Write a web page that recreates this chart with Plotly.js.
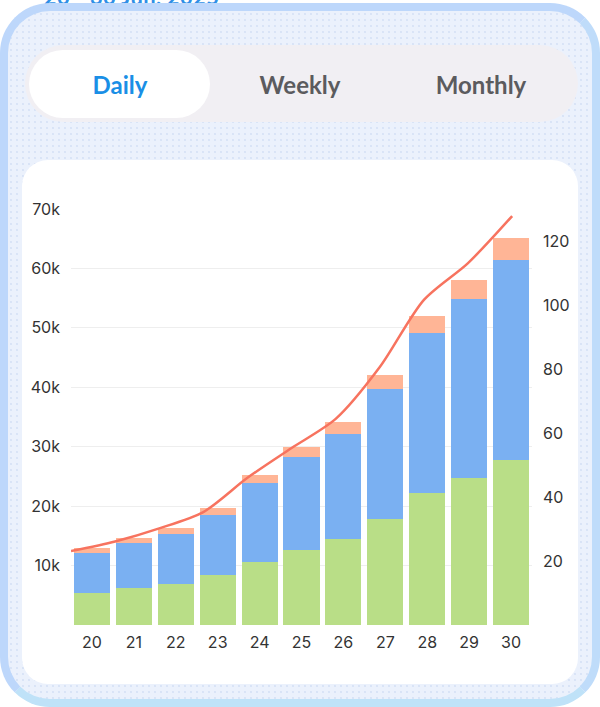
<!DOCTYPE html>
<html>
<head>
<meta charset="utf-8">
<script src="https://cdn.plot.ly/plotly-3.0.1.min.js"></script>
<style>
  html, body { margin:0; padding:0; width:600px; height:707px; overflow:hidden; background:#ffffff; font-family: Lato, "Open Sans", sans-serif; }
  #daterange { position:absolute; left:44px; top:-17px; font-size:22px; font-weight:700; color:#2f8fe6; letter-spacing:0.3px; white-space:nowrap; }
  #frame { position:absolute; left:0; top:3px; width:600px; height:704px; box-sizing:border-box; border-radius:50px;
           border:8px solid #bdd7fb; border-bottom-color:#bfe2f8; border-right-color:#bfdcfa;
           background-color:#ebf1fc;
           background-image: radial-gradient(rgba(200,215,240,0.5) 1px, transparent 1.2px);
           background-size:6px 6px; }
  #tabs { position:absolute; left:25px; top:45px; width:553px; height:77px; border-radius:39px; background:#f1eff3; }
  #active { position:absolute; left:29px; top:50px; width:181px; height:68px; border-radius:34px; background:#ffffff; }
  .tab { position:absolute; top:84px; transform:translate(-50%,-50%); font-size:24px; font-weight:700; color:#5b5b5e; white-space:nowrap; }
  #card { position:absolute; left:22px; top:160px; width:556px; height:524px; border-radius:26px; background:#ffffff; }
  #chart { position:absolute; left:0; top:0; width:600px; height:707px; }
</style>
</head>
<body>
<div id="daterange">20 - 30 Jun, 2025</div>
<div id="frame"></div>
<div id="tabs"></div>
<div id="active"></div>
<div class="tab" style="left:120px;color:#1a8fe6;">Daily</div>
<div class="tab" style="left:300px;">Weekly</div>
<div class="tab" style="left:481px;">Monthly</div>
<div id="card"></div>
<div id="chart"></div>
<script>
// Data
const days = ["20","21","22","23","24","25","26","27","28","29","30"];
const greenVals  = [5400, 6200, 6900, 8400, 10650, 12600, 14500, 17800, 22200, 24700, 27800];
const blueVals   = [6800, 7600, 8400, 10100, 13250, 15700, 17600, 21900, 26900, 30100, 33700];
const orangeVals = [700, 900, 1000, 1200, 1300, 1600, 2000, 2300, 2900, 3300, 3600];
const lineVals   = [23.1, 26.1, 30.2, 35.3, 46.0, 55.3, 64.4, 80.6, 101.6, 113.1, 127.8];
const lineIdx    = [0,1,2,3,4,5,6,7,8,9,10];
const leftTicks  = [10000,20000,30000,40000,50000,60000,70000];
const leftLabels = ["10k","20k","30k","40k","50k","60k","70k"];
const rightTicks = [20,40,60,80,100,120];

const tickFont = {family:"Inter, Roboto, sans-serif", size:16, color:"#333333"};

const traces = [
  {type:"bar", x:days, y:greenVals, marker:{color:"#b9de87"}, hoverinfo:"skip"},
  {type:"bar", x:days, y:blueVals, marker:{color:"#7ab0f2"}, hoverinfo:"skip"},
  {type:"bar", x:days, y:orangeVals, marker:{color:"#ffb596"}, hoverinfo:"skip"},
  {type:"scatter", mode:"lines", x:lineIdx, y:lineVals, xaxis:"x2", yaxis:"y2",
   line:{color:"#f7735f", width:2.5, shape:"spline", smoothing:0.8}, hoverinfo:"skip"}
];

const layout = {
  width:600, height:707,
  margin:{l:71, r:68, t:209, b:82, pad:0},
  paper_bgcolor:"rgba(0,0,0,0)", plot_bgcolor:"rgba(0,0,0,0)",
  barmode:"stack", bargap:0.14,
  showlegend:false,
  xaxis:{type:"category", showgrid:false, zeroline:false, showline:false, ticks:"", tickfont:tickFont, ticklabelstandoff:6, fixedrange:true},
  xaxis2:{overlaying:"x", range:[0,10.45], visible:false, fixedrange:true},
  yaxis:{range:[0,70000], tickvals:leftTicks, ticktext:leftLabels, showgrid:true, gridcolor:"#eeeeee", gridwidth:1,
         zeroline:false, showline:false, ticks:"", tickfont:tickFont, ticklabelstandoff:10, fixedrange:true},
  yaxis2:{overlaying:"y", side:"right", range:[0,130], tickvals:rightTicks, showgrid:false, zeroline:false,
          showline:false, ticks:"", tickfont:tickFont, ticklabelstandoff:10, fixedrange:true}
};

Plotly.newPlot("chart", traces, layout, {staticPlot:true, displayModeBar:false});
</script>
</body>
</html>
